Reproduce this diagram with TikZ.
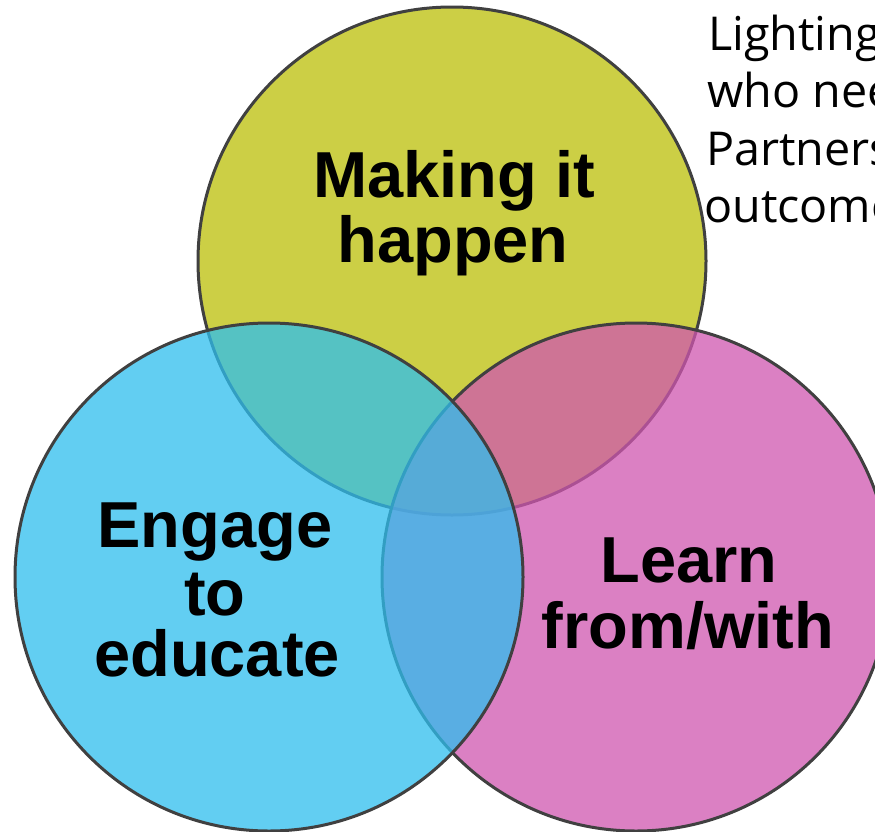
\documentclass[tikz,border=0pt]{standalone}
\usepackage{fontspec}
\setmainfont{Liberation Sans}
\newfontfamily\handfont{Open Sans}
\definecolor{ycol}{RGB}{204,207,69}
\definecolor{mcol}{RGB}{208,86,176}
\definecolor{ccol}{RGB}{46,190,238}
\definecolor{edgecol}{RGB}{64,64,64}
\begin{document}
\begin{tikzpicture}[x=0.75pt,y=-0.75pt,
  ring/.style={circle, minimum size=381pt, inner sep=0pt, draw=edgecol, line width=2.25pt},
  bigtxt/.style={anchor=base, inner sep=0pt, font=\fontsize{48.75}{49}\selectfont\bfseries},
  handtxt/.style={anchor=base west, inner sep=0pt, font=\handfont\fontsize{35}{36}\selectfont}]
\useasboundingbox (0,0) rectangle (875,832);
\clip (0,0) rectangle (875,832);
\fill[white] (0,0) rectangle (875,832);
\node[ring, fill=ycol] (top) at (452,261) {};
\node[ring, fill=mcol, fill opacity=0.75, draw opacity=1] (right) at (636,577) {};
\node[ring, fill=ccol, fill opacity=0.75, draw opacity=1] (left) at (269,577) {};
\node[bigtxt] (t1) at (454,197) {Making it};
\node[bigtxt] (t2) at (453,262) {happen};
\node[bigtxt] (l1) at (215,547) {Engage};
\node[bigtxt] (l2) at (215,615) {to};
\node[bigtxt] (l3) at (217,676) {educate};
\node[bigtxt] (r1) at (689,582) {Learn};
\node[bigtxt] (r2) at (688,648) {from/with};
\node[handtxt] (h1) at (708,50) {Lighting};
\node[handtxt] (h2) at (707,107) {who need};
\node[handtxt] (h3) at (706,165) {Partners};
\node[handtxt] (h4) at (704,222) {outcomes};
\end{tikzpicture}
\end{document}
